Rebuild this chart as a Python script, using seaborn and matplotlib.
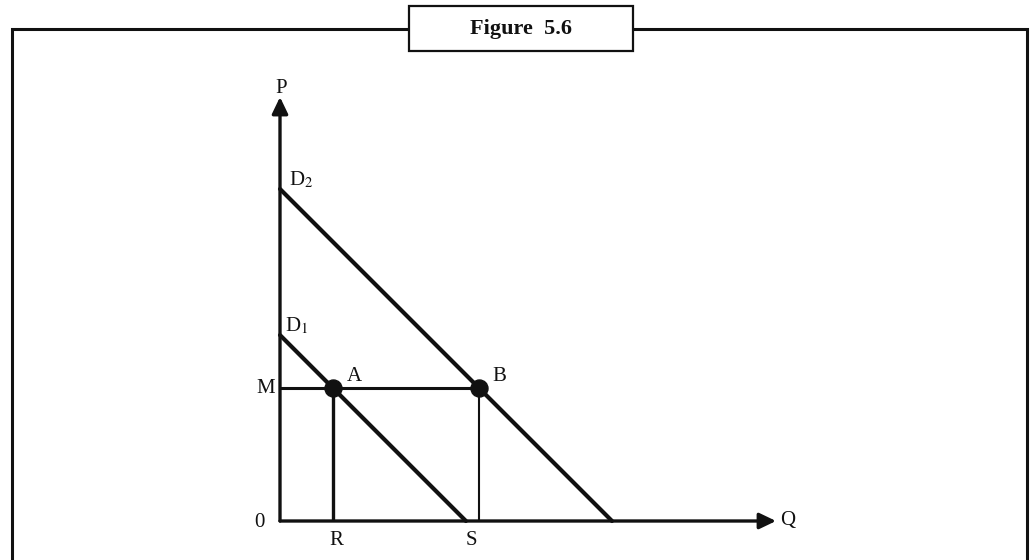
import matplotlib
matplotlib.use("Agg")
import matplotlib.pyplot as plt
import pandas as pd
import seaborn as sns
from matplotlib.lines import Line2D
from matplotlib.patches import Rectangle

# demand curves: price intercept -> quantity intercept (slope -1)
d1_price = [5.6, 0.0]
d1_qty = [0.0, 5.6]
d2_price = [10.0, 0.0]
d2_qty = [0.0, 10.0]

# equilibrium price M and the two points on it
price_m = 4.0
point_labels = ["A", "B"]
point_qty = [1.6, 6.0]
point_price = [4.0, 4.0]

# axis extents
q_max = 14.94
p_max = 12.77

INK = "#111111"

sns.set_style("white")
plt.rcParams["font.family"] = ["Liberation Serif", "DejaVu Serif"]
plt.rcParams["mathtext.fontset"] = "stix"

fig = plt.figure(figsize=(10.3, 5.6), dpi=100)
ax = fig.add_axes([0, 0, 1, 1])
ax.set_xlim(-280 / 33.2, 750 / 33.2)
ax.set_ylim(-39 / 33.2, 521 / 33.2)
ax.axis("off")

# outer frame + title box
fig.add_artist(Line2D([0.0117, 0.0117, 0.9971, 0.9971], [-0.01, 0.9482, 0.9482, -0.01],
                      transform=fig.transFigure, color=INK, lw=2.2, solid_joinstyle="miter"))
fig.add_artist(Rectangle((0.3971, 0.9089), 0.2175, 0.0804, transform=fig.transFigure,
                         facecolor="white", edgecolor=INK, lw=1.6, zorder=5))
fig.text(0.506, 0.949, "Figure  5.6", ha="center", va="center", fontsize=16,
         fontweight="bold", color=INK, zorder=6)

# axes with arrow heads
arrow = dict(arrowstyle="-|>,head_length=0.5,head_width=0.24", mutation_scale=20,
             lw=2.4, color=INK, shrinkA=0, shrinkB=0)
ax.annotate("", xy=(q_max, 0), xytext=(0, 0), arrowprops=arrow)
ax.annotate("", xy=(0, p_max), xytext=(0, 0), arrowprops=arrow)

# demand curves
curves = pd.concat([
    pd.DataFrame({"Q": d1_qty, "P": d1_price, "curve": "D1"}),
    pd.DataFrame({"Q": d2_qty, "P": d2_price, "curve": "D2"}),
])
sns.lineplot(data=curves, x="Q", y="P", units="curve", estimator=None, sort=False,
             color=INK, linewidth=3.0, ax=ax, legend=False)

# guide lines
ax.hlines(price_m, 0, point_qty[1], color=INK, lw=2.2)
ax.vlines(point_qty[0], 0, point_price[0], color=INK, lw=2.4)
ax.vlines(point_qty[1], 0, point_price[1], color=INK, lw=1.5)

sns.scatterplot(x=point_qty, y=point_price, s=150, color=INK, edgecolor=INK, zorder=4, ax=ax)

# labels
fs = 15
ax.text(0.05, 12.9, "P", ha="center", va="baseline", fontsize=fs, color=INK)
ax.text(0.27, d2_price[0] + 0.12, r"D$_2$", ha="left", va="baseline", fontsize=fs, color=INK)
ax.text(0.15, d1_price[0] + 0.12, r"D$_1$", ha="left", va="baseline", fontsize=fs, color=INK)
ax.text(-0.15, price_m, "M", ha="right", va="center", fontsize=fs, color=INK)
ax.text(point_qty[0] + 0.4, 4.22, point_labels[0], ha="left", va="baseline", fontsize=fs, color=INK)
ax.text(point_qty[1] + 0.39, 4.22, point_labels[1], ha="left", va="baseline", fontsize=fs, color=INK)
ax.text(-0.45, -0.05, "0", ha="right", va="center", fontsize=fs, color=INK)
ax.text(1.7, -0.3, "R", ha="center", va="top", fontsize=fs, color=INK)
ax.text(5.77, -0.3, "S", ha="center", va="top", fontsize=fs, color=INK)
ax.text(15.06, 0, "Q", ha="left", va="center", fontsize=fs, color=INK)

fig.savefig("out.png", dpi=100)
